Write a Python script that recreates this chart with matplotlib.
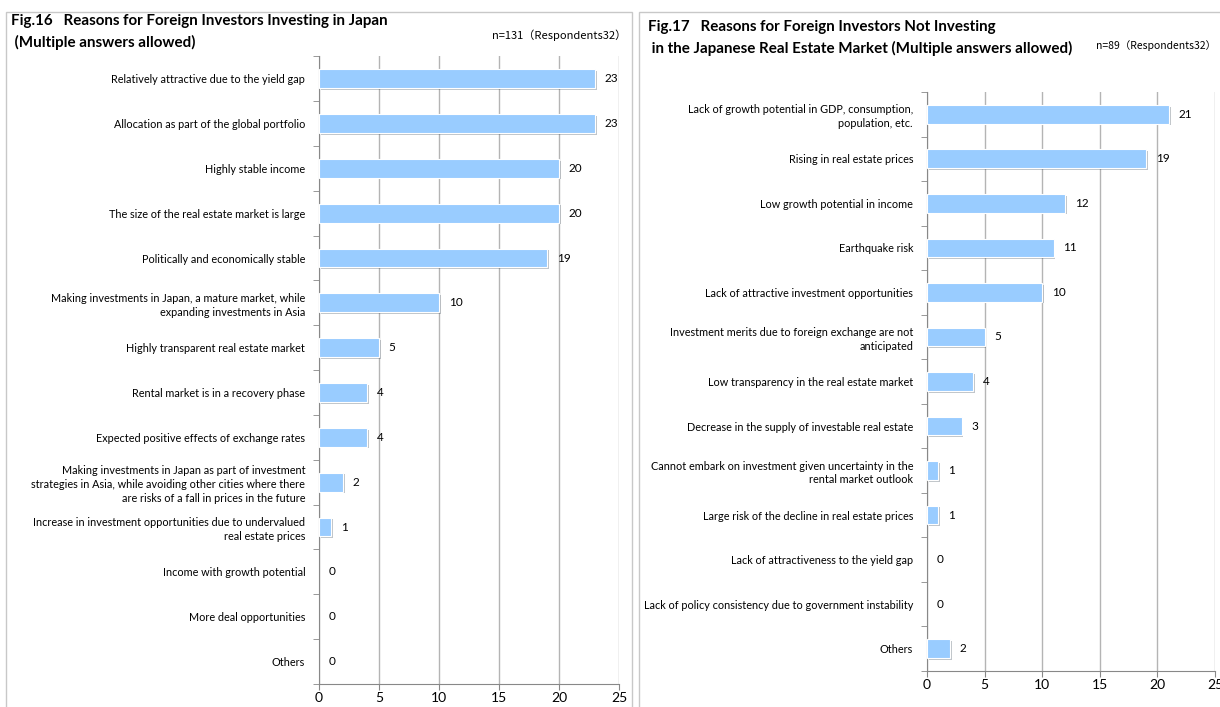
import numpy as np
import matplotlib
matplotlib.use('Agg')
import matplotlib.pyplot as plt
import matplotlib.patheffects as pe
from matplotlib.patches import Rectangle

plt.rcParams['font.family'] = ['Lato', 'DejaVu Sans']

# ---- data ----
left_labels = [
    "Relatively attractive due to the yield gap",
    "Allocation as part of the global portfolio",
    "Highly stable income",
    "The size of the real estate market is large",
    "Politically and economically stable",
    "Making investments in Japan, a mature market, while\nexpanding investments in Asia",
    "Highly transparent real estate market",
    "Rental market is in a recovery phase",
    "Expected positive effects of exchange rates",
    "Making investments in Japan as part of investment\nstrategies in Asia, while avoiding other cities where there\nare risks of a fall in prices in the future",
    "Increase in investment opportunities due to undervalued\nreal estate prices",
    "Income with growth potential",
    "More deal opportunities",
    "Others",
]
left_values = [23, 23, 20, 20, 19, 10, 5, 4, 4, 2, 1, 0, 0, 0]

right_labels = [
    "Lack of growth potential in GDP, consumption,\npopulation, etc.",
    "Rising in real estate prices",
    "Low growth potential in income",
    "Earthquake risk",
    "Lack of attractive investment opportunities",
    "Investment merits due to foreign exchange are not\nanticipated",
    "Low transparency in the real estate market",
    "Decrease in the supply of investable real estate",
    "Cannot embark on investment given uncertainty in the\nrental market outlook",
    "Large risk of the decline in real estate prices",
    "Lack of attractiveness to the yield gap",
    "Lack of policy consistency due to government instability",
    "Others",
]
right_values = [21, 19, 12, 11, 10, 5, 4, 3, 1, 1, 0, 0, 2]

xticks = [0, 5, 10, 15, 20, 25]

BAR = '#99ccff'
GRID = '#b4b4b4'

fig = plt.figure(figsize=(12.2, 7.07), dpi=100)

# panel frames
for x0, w in [(0.005, 0.513), (0.524, 0.48)]:
    fig.patches.append(Rectangle((x0, -0.05), w, 1.033, transform=fig.transFigure,
                                 fill=False, edgecolor='#c8c8c8', lw=1.0))


def panel(rect, labels, values):
    ax = fig.add_axes(rect)
    n = len(labels)
    y = np.arange(n)
    bars = ax.barh(y, values, height=0.42, color=BAR, edgecolor='white', lw=0.8, zorder=3)
    for b, v in zip(bars, values):
        if v > 0:
            b.set_path_effects([pe.SimplePatchShadow(offset=(1.2, -1.2), alpha=0.3), pe.Normal()])
        else:
            b.set_visible(False)
    for yi, v in zip(y, values):
        ax.annotate(str(v), (v, yi), xytext=(7, 0), textcoords='offset points',
                    va='center', ha='left', fontsize=8.5, zorder=4)
    ax.set_ylim(n - 0.5, -0.5)
    ax.set_xlim(0, 25)
    ax.set_xticks(xticks)
    ax.set_yticks(y)
    ax.set_yticklabels(labels, fontsize=7.8, linespacing=1.3)
    ax.set_yticks(np.arange(n + 1) - 0.5, minor=True)
    ax.tick_params(axis='y', which='major', length=0, pad=10)
    ax.tick_params(axis='y', which='minor', length=4, color='#888888')
    ax.tick_params(axis='x', length=4, color='#888888', labelsize=10, pad=2)
    ax.grid(axis='x', color=GRID, lw=1.0, zorder=0)
    for s in ['top', 'right']:
        ax.spines[s].set_visible(False)
    for s in ['left', 'bottom']:
        ax.spines[s].set_color('#888888')
    return ax


ax1 = panel([0.2615, 0.0325, 0.2459, 0.888], left_labels, left_values)
ax2 = panel([0.7598, 0.0509, 0.2361, 0.819], right_labels, right_values)

fig.text(0.009, 0.971, "Fig.16   Reasons for Foreign Investors Investing in Japan",
         fontsize=10.9, fontweight='bold', va='center')
fig.text(0.009, 0.94, " (Multiple answers allowed)",
         fontsize=10.9, fontweight='bold', va='center')
fig.text(0.513, 0.95, "n=131（Respondents32）", fontsize=8, ha='right', va='center',
         family=['Noto Sans CJK JP', 'DejaVu Sans'])

fig.text(0.531, 0.962, "Fig.17   Reasons for Foreign Investors Not Investing",
         fontsize=10.9, fontweight='bold', va='center')
fig.text(0.531, 0.932, " in the Japanese Real Estate Market (Multiple answers allowed)",
         fontsize=10.9, fontweight='bold', va='center')
fig.text(0.997, 0.936, "n=89（Respondents32）", fontsize=7.5, ha='right', va='center',
         family=['Noto Sans CJK JP', 'DejaVu Sans'])

fig.savefig('out.png', dpi=100)
